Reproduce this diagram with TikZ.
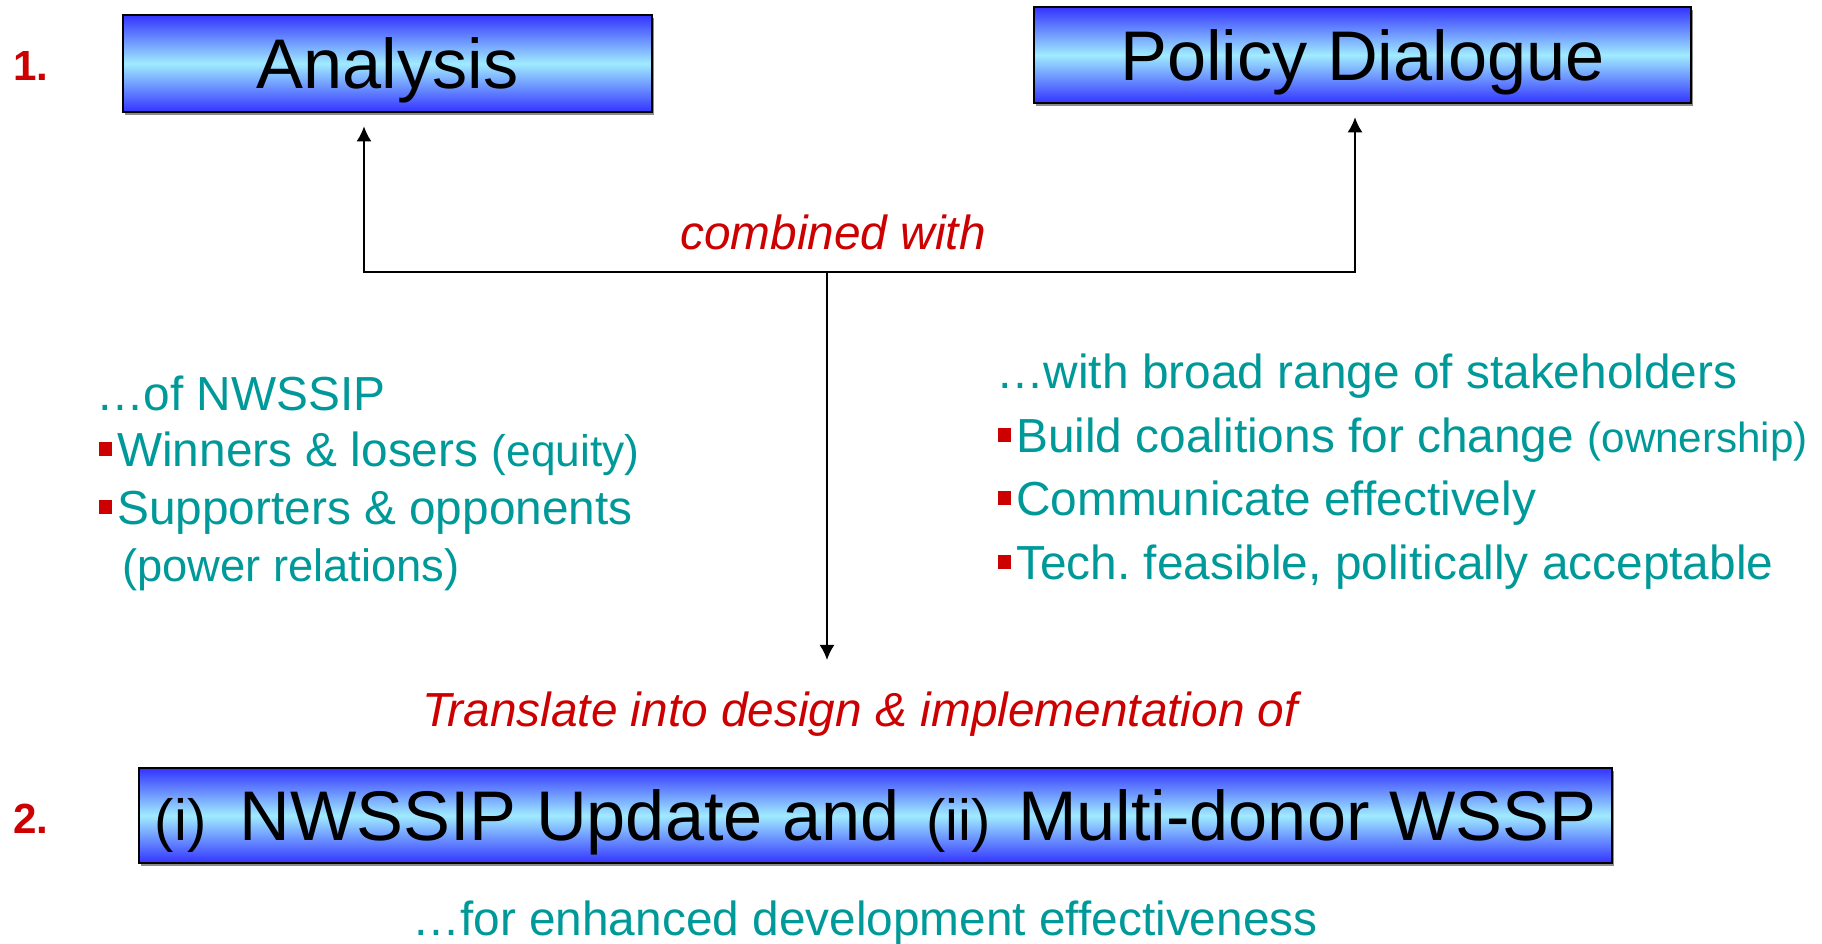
\documentclass[tikz,border=0pt]{standalone}
\usepackage{fontspec}
\setmainfont{Liberation Sans}
\usepackage{xcolor}
\usepackage{tikz}
\usetikzlibrary{arrows.meta,positioning,calc,shadows}
\definecolor{tealtext}{RGB}{0,153,153}
\definecolor{redtext}{RGB}{204,0,0}
\definecolor{boxblue}{RGB}{51,51,255}
\definecolor{boxcyan}{RGB}{160,235,255}
\newcommand{\bodysize}{\fontsize{13.6pt}{16pt}\selectfont}
\newcommand{\parensize}[1]{\fontsize{#1}{14pt}\selectfont}
\newcommand{\redsq}{\textcolor{redtext}{\rule[0.22em]{0.28em}{0.28em}}\hspace{0.1em}}
\frenchspacing

\begin{document}
\begin{tikzpicture}[>={Latex[length=4.3pt,width=4.3pt]},line width=0.6pt,
  bluebox/.style={draw,line width=0.7pt,top color=boxblue,bottom color=boxblue,middle color=boxcyan,inner sep=0pt,text height=18pt,text depth=3.6pt,font=\fontsize{20pt}{24pt}\selectfont,drop shadow={shadow xshift=0.02cm,shadow yshift=-0.025cm,fill=black!45,opacity=1}},
  stepnum/.style={text=redtext,font=\fontsize{12pt}{14pt}\selectfont\bfseries},
  linktext/.style={text=redtext,font=\bodysize\itshape,anchor=base,inner sep=0pt},
  item/.style={text=tealtext,font=\bodysize,anchor=base west,inner sep=0pt}]
\useasboundingbox (0,0) rectangle (18.22,-9.43);
% step 1: the two boxes
\node[stepnum](num1) at (0.31,-0.66){1.};
\node[bluebox,minimum width=5.29cm,minimum height=0.97cm](ana) at (3.875,-0.635){Analysis};
\node[bluebox,minimum width=6.57cm,minimum height=0.96cm](pol) at (13.625,-0.55){Policy Dialogue};
\node[linktext](comb) at (8.33,-2.49){combined with};
% left list
\node[item](anahead) at (0.95,-4.10){…of NWSSIP};
\node[item](ana1) at (0.98,-4.66){\redsq Winners \& losers {\parensize{12.6pt}(equity)}};
\node[item](ana2) at (0.98,-5.24){\redsq Supporters \& opponents};
\node[item](ana3) at (1.21,-5.81){{\parensize{12.9pt}(power relations)}};
% right list
\node[item](polhead) at (9.95,-3.88){…with broad range of stakeholders};
\node[item](pol1) at (9.97,-4.52){\redsq Build coalitions for change {\parensize{12pt}(ownership)}};
\node[item](pol2) at (9.97,-5.15){\redsq Communicate effectively};
\node[item](pol3) at (9.97,-5.79){\redsq Tech. feasible, politically acceptable};
% step 2
\node[linktext](trans) at (8.60,-7.26){Translate into design \& implementation of};
\node[stepnum](num2) at (0.31,-8.19){2.};
\node[bluebox,minimum width=14.73cm,minimum height=0.95cm](upd) at (8.755,-8.155){{\parensize{16.5pt}(i)}\hspace{0.33cm}NWSSIP Update and\hspace{0.27cm}{\parensize{16.5pt}(ii)}\hspace{0.27cm}Multi-donor WSSP};
\node[item,anchor=base](eff) at (8.65,-9.35){…for enhanced development effectiveness};
% connectors
\coordinate (hub) at (8.27,-2.72);
\coordinate (anafoot) at (3.64,-2.72);
\coordinate (polfoot) at (13.55,-2.72);
\coordinate (down) at (8.27,-6.60);
\draw[->,shorten >=0.13cm](hub)--(anafoot)--(anafoot |- ana.south);
\draw[->,shorten >=0.13cm](hub)--(polfoot)--(polfoot |- pol.south);
\draw[->](hub)--(down);
\end{tikzpicture}
\end{document}
